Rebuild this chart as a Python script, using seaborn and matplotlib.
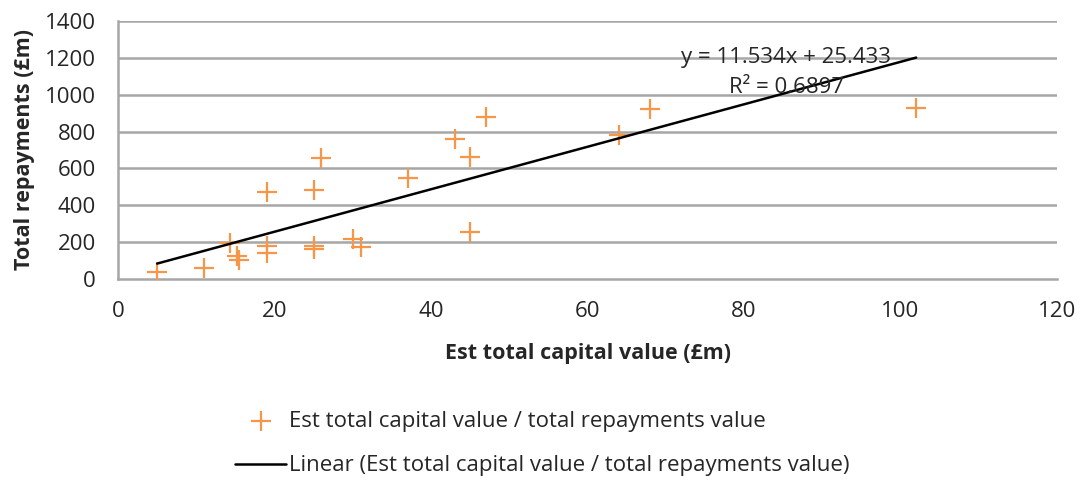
import matplotlib
matplotlib.use("Agg")
import matplotlib.pyplot as plt
import seaborn as sns
import numpy as np
import pandas as pd

# Scheme data: estimated capital value vs total repayments (£m)
capital_value = [5, 11, 14.3, 15.2, 15.5, 19, 19, 19, 25, 25, 25, 26, 30, 31,
                 37, 43, 45, 45, 47, 64, 68, 102]
total_repayments = [35, 60, 195, 125, 100, 470, 180, 140, 485, 180, 160, 655, 215, 175,
                    550, 760, 660, 255, 880, 780, 920, 930]

# Linear trendline as reported
slope = 11.534
intercept = 25.433
r_squared = 0.6897

x_ticks = [0, 20, 40, 60, 80, 100, 120]
y_ticks = [0, 200, 400, 600, 800, 1000, 1200, 1400]

scatter_label = "Est total capital value / total repayments value"
trend_label = "Linear (Est total capital value / total repayments value)"

sns.set_style("white")
plt.rcParams["font.family"] = ["Open Sans", "DejaVu Sans"]

df = pd.DataFrame({"capital": capital_value, "repayments": total_repayments})
xs = np.array([min(capital_value), max(capital_value)])
trend = pd.DataFrame({"capital": xs, "repayments": slope * xs + intercept})

text_col = "#262626"
fig = plt.figure(figsize=(10.88, 4.8), dpi=100)
ax = fig.add_axes([0.1085, 0.419, 0.863, 0.537])

grid_col = "#a6a6a6"
for yv in y_ticks[1:]:
    ax.axhline(yv, color=grid_col, lw=1.8, zorder=0)

sns.scatterplot(data=df, x="capital", y="repayments", ax=ax, marker="+",
                s=220, color="#F79646", linewidth=1.6, label=scatter_label, zorder=3)
sns.lineplot(data=trend, x="capital", y="repayments", ax=ax, color="black",
             lw=1.8, label=trend_label, zorder=4)

ax.set_xlim(0, 120)
ax.set_ylim(0, 1400)
ax.set_xticks(x_ticks)
ax.set_yticks(y_ticks)
ax.tick_params(axis="both", labelsize=16, length=7, width=1.5, color=grid_col,
               labelcolor=text_col, direction="out")
ax.tick_params(axis="y", pad=9)
ax.tick_params(axis="x", pad=9)
for side in ["top", "right"]:
    ax.spines[side].set_visible(False)
for side in ["left", "bottom"]:
    ax.spines[side].set_color(grid_col)
    ax.spines[side].set_linewidth(1.8)

ax.set_xlabel("Est total capital value (£m)", fontsize=15.5, fontweight="bold",
              color=text_col, labelpad=15)
ax.set_ylabel("Total repayments (£m)", fontsize=15.5, fontweight="bold",
              color=text_col, labelpad=7)

ax.text(85.4, 1200, f"y = {slope}x + {intercept}", fontsize=16, ha="center",
        va="center", color=text_col, zorder=5)
ax.text(85.4, 1038, f"R² = {r_squared}", fontsize=16, ha="center",
        va="center", color=text_col, zorder=5)

handles, labels = ax.get_legend_handles_labels()
ax.get_legend().remove()
fig.legend(handles, labels, loc="upper left", bbox_to_anchor=(0.208, 0.162),
           frameon=False, fontsize=16, labelspacing=1.05, handlelength=2.3,
           handletextpad=0.1, borderaxespad=0)

fig.savefig("out.png", dpi=100)
